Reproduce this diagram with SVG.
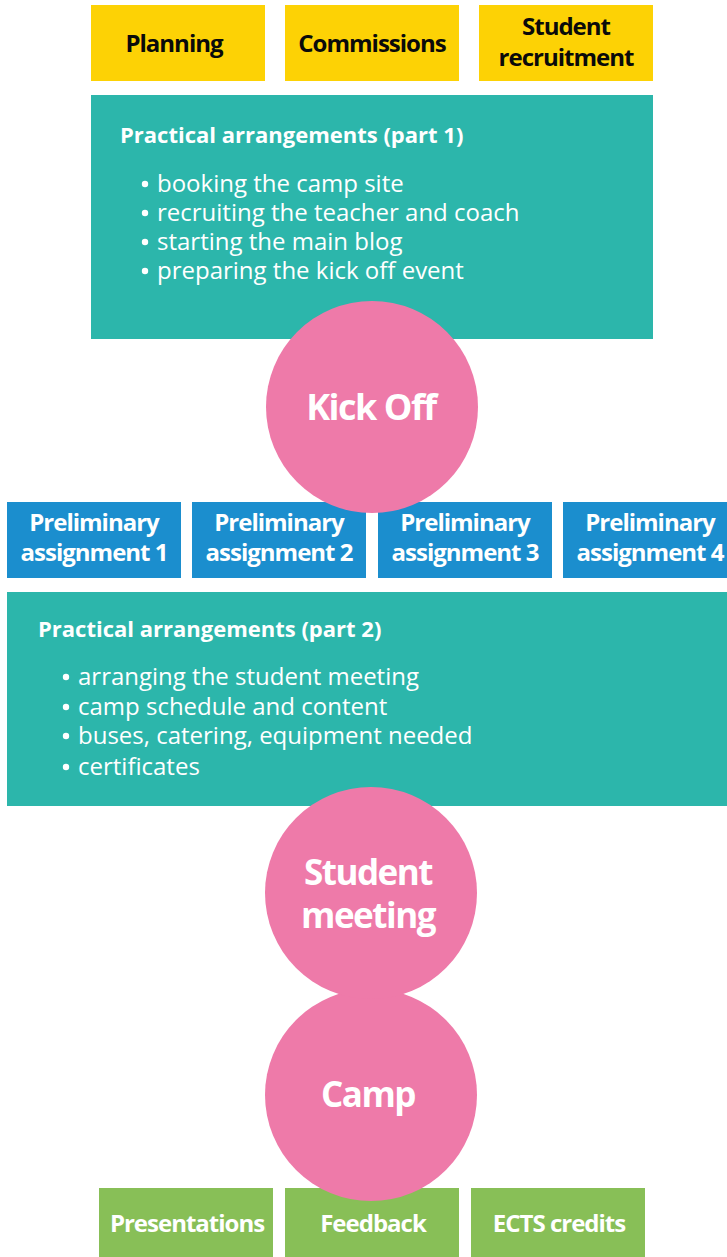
<svg xmlns="http://www.w3.org/2000/svg" width="727" height="1257" viewBox="0 0 727 1257">
  <style>
    .yellow { fill: #FDD205; }
    .teal { fill: #2CB6AB; }
    .pink { fill: #EE7AA9; }
    .blue { fill: #1B8ECE; }
    .green { fill: #88BF57; }
    text { font-family: "Open Sans", "Noto Sans", "Liberation Sans", sans-serif; }
    .lbl { font-weight: bold; font-size: 24px; letter-spacing: -1px; text-anchor: middle; }
    .dark { fill: #0A0A0A; }
    .light { fill: #FFFFFF; }
    .big { font-weight: bold; font-size: 35px; letter-spacing: -1.5px; text-anchor: middle; fill: #FFFFFF; }
    .title { font-weight: bold; font-size: 22px; fill: #FFFFFF; }
    .item { font-size: 24px; fill: #FFFFFF; }
    .dot { fill: #FFFFFF; }
  </style>
  <defs>
    <circle id="bullet" r="3.2"/>
  </defs>

  <!-- top row: preparation tasks -->
  <g id="planning">
    <rect class="yellow" x="91" y="5" width="174" height="76"/>
    <text class="lbl dark" x="174" y="52">Planning</text>
  </g>
  <g id="commissions">
    <rect class="yellow" x="285" y="5" width="174" height="76"/>
    <text class="lbl dark" x="372" y="52">Commissions</text>
  </g>
  <g id="recruitment">
    <rect class="yellow" x="479" y="5" width="174" height="76"/>
    <text class="lbl dark" x="566" y="35">Student<tspan x="566" dy="31">recruitment</tspan></text>
  </g>

  <!-- practical arrangements, part 1 -->
  <g id="arrangements1">
    <rect class="teal" x="91" y="95" width="562" height="244"/>
    <text class="title" x="120" y="143">Practical arrangements (part 1)</text>
    <use href="#bullet" class="dot" x="145" y="184"/>
    <use href="#bullet" class="dot" x="145" y="213"/>
    <use href="#bullet" class="dot" x="145" y="242"/>
    <use href="#bullet" class="dot" x="145" y="271"/>
    <text class="item" x="157" y="192">booking the camp site<tspan x="157" dy="29">recruiting the teacher and coach</tspan><tspan x="157" dy="29">starting the main blog</tspan><tspan x="157" dy="29">preparing the kick off event</tspan></text>
  </g>

  <!-- preliminary assignments -->
  <g id="assignment1">
    <rect class="blue" x="7" y="502" width="174" height="76"/>
    <text class="lbl light" x="94" y="531">Preliminary<tspan x="94" dy="30">assignment 1</tspan></text>
  </g>
  <g id="assignment2">
    <rect class="blue" x="192" y="502" width="174" height="76"/>
    <text class="lbl light" x="279" y="531">Preliminary<tspan x="279" dy="30">assignment 2</tspan></text>
  </g>
  <g id="assignment3">
    <rect class="blue" x="378" y="502" width="174" height="76"/>
    <text class="lbl light" x="465" y="531">Preliminary<tspan x="465" dy="30">assignment 3</tspan></text>
  </g>
  <g id="assignment4">
    <rect class="blue" x="563" y="502" width="174" height="76"/>
    <text class="lbl light" x="650" y="531">Preliminary<tspan x="650" dy="30">assignment 4</tspan></text>
  </g>

  <!-- kick off, drawn over the neighbouring boxes -->
  <g id="kickoff">
    <circle class="pink" cx="372" cy="407" r="106"/>
    <text class="big" x="371" y="420" style="font-size:36px">Kick Off</text>
  </g>

  <!-- practical arrangements, part 2 -->
  <g id="arrangements2">
    <rect class="teal" x="7" y="592" width="720" height="214"/>
    <text class="title" x="38" y="637">Practical arrangements (part 2)</text>
    <use href="#bullet" class="dot" x="66" y="677"/>
    <use href="#bullet" class="dot" x="66" y="707"/>
    <use href="#bullet" class="dot" x="66" y="736"/>
    <use href="#bullet" class="dot" x="66" y="767"/>
    <text class="item" x="78" y="685">arranging the student meeting<tspan x="78" dy="30">camp schedule and content</tspan><tspan x="78" dy="29">buses, catering, equipment needed</tspan><tspan x="78" dy="31">certificates</tspan></text>
  </g>

  <!-- outcomes -->
  <g id="presentations">
    <rect class="green" x="99" y="1188" width="174" height="69"/>
    <text class="lbl light" x="187" y="1232">Presentations</text>
  </g>
  <g id="feedback">
    <rect class="green" x="285" y="1188" width="174" height="69"/>
    <text class="lbl light" x="373" y="1232">Feedback</text>
  </g>
  <g id="ects">
    <rect class="green" x="471" y="1188" width="174" height="69"/>
    <text class="lbl light" x="559" y="1232">ECTS credits</text>
  </g>

  <!-- milestones -->
  <g id="camp">
    <circle class="pink" cx="371" cy="1095" r="106"/>
    <text class="big" x="368" y="1107">Camp</text>
  </g>
  <g id="student-meeting">
    <circle class="pink" cx="371" cy="893" r="106"/>
    <text class="big" x="368" y="885">Student<tspan x="368" dy="43">meeting</tspan></text>
  </g>

  <!-- the stages touch one another directly; there are no separate connector lines -->
  <g id="connectors"/>
</svg>
